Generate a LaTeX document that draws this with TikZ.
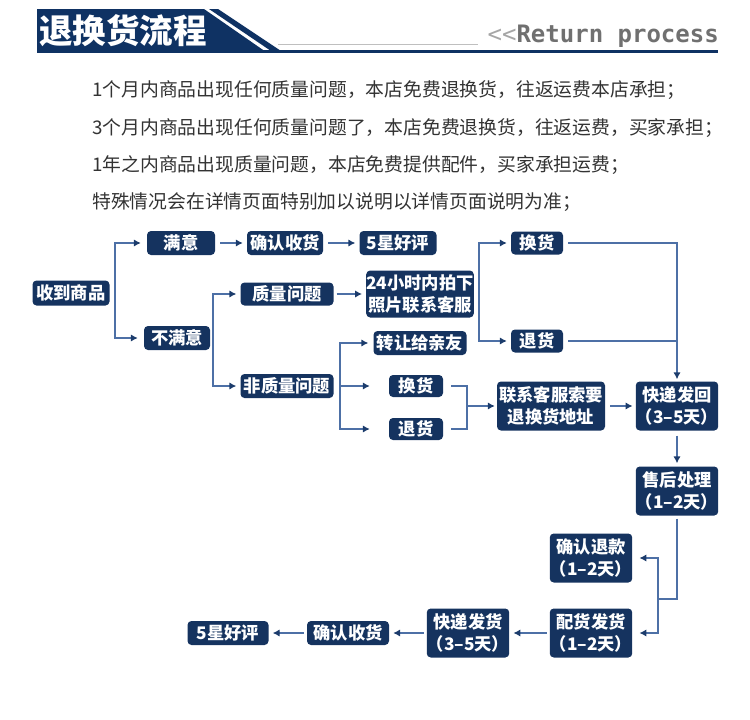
\documentclass[tikz,border=0pt]{standalone}
\usepackage{fontspec}
\setmainfont{Noto Sans CJK SC}
\newfontfamily\monofam{DejaVu Sans Mono}
\usetikzlibrary{arrows.meta}
\definecolor{boxc}{HTML}{15335F}
\definecolor{headc}{HTML}{0F3263}
\definecolor{linec}{HTML}{4D70A6}
\definecolor{tipc}{HTML}{1C3C6C}
\definecolor{textc}{HTML}{333333}
\definecolor{subc}{HTML}{707070}
\tikzset{
  box/.style={fill=boxc, rounded corners=4pt, text=white, inner sep=0pt, align=center,
    font=\bfseries\fontsize{17.3}{22}\selectfont},
  conn/.style={draw=linec, line width=1.8pt, shorten >=4pt,
    -{Latex[length=7pt,width=7.5pt,color=tipc]}},
  link/.style={draw=linec, line width=1.8pt},
  bodytext/.style={anchor=west, inner sep=0pt, text=textc, font=\fontsize{18.8}{20}\selectfont},
}
\begin{document}
\begin{tikzpicture}[x=1pt,y=-1pt]
\useasboundingbox (0,0) rectangle (750,720);
% header
\fill[headc] (37,9) -- (204,9) -- (266,52) -- (37,52) -- cycle;
\fill[headc] (209,9) -- (218,9) -- (281,51) -- (271,51) -- cycle;
\fill[headc] (37,50) rectangle (718,53);
\draw[black!25, line width=0.8pt] (278,44) -- (478,44);
\node[anchor=west, inner sep=0pt, text=white, font=\bfseries\fontsize{33.5}{33.5}\selectfont] (title) at (39,31) {退换货流程};
\node[anchor=east, inner sep=0pt, text=subc, font=\monofam\bfseries\fontsize{24}{24}\selectfont] (sub) at (719,36) {{\mdseries\color{black!35}<<}Return process};
% body text
\node[bodytext] (l1) at (92,90) {1个月内商品出现任何质量问题，本店免费退换货，往返运费本店承担；};
\node[bodytext] (l2) at (92,128) {3个月内商品出现任何质量问题了，本店免费退换货，往返运费，买家承担；};
\node[bodytext] (l3) at (92,165) {1年之内商品出现质量问题，本店免费提供配件，买家承担运费；};
\node[bodytext] (l4) at (92,202) {特殊情况会在详情页面特别加以说明以详情页面说明为准；};
% nodes
\node[box, minimum width=77pt, minimum height=25pt] (recv) at (71,293) {收到商品};
\node[box, minimum width=68pt, minimum height=24pt] (ok) at (181,243) {满意};
\node[box, minimum width=76pt, minimum height=24pt] (confirmA) at (285,243) {确认收货};
\node[box, minimum width=77pt, minimum height=24pt] (starA) at (398,243) {5星好评};
\node[box, minimum width=66pt, minimum height=24pt] (notok) at (177,338) {不满意};
\node[box, minimum width=93pt, minimum height=23pt] (qual) at (287,294) {质量问题};
\node[box, minimum width=107pt, minimum height=47pt] (photo) at (420,294) {24小时内拍下\\照片联系客服};
\node[box, minimum width=93pt, minimum height=24pt] (gift) at (420,343) {转让给亲友};
\node[box, minimum width=93pt, minimum height=24pt] (nonqual) at (287,386) {非质量问题};
\node[box, minimum width=54pt, minimum height=22pt] (exL) at (416,386) {换货};
\node[box, minimum width=54pt, minimum height=22pt] (retL) at (416,429) {退货};
\node[box, minimum width=108pt, minimum height=49pt] (contact) at (551,406) {联系客服索要\\退换货地址};
\node[box, minimum width=52pt, minimum height=23pt] (exR) at (537,243) {换货};
\node[box, minimum width=52pt, minimum height=23pt] (retR) at (537,341) {退货};
\node[box, minimum width=82pt, minimum height=49pt] (shipback) at (677,406) {快递发回\\（3–5天）};
\node[box, minimum width=81pt, minimum height=49pt] (after) at (677,491) {售后处理\\（1–2天）};
\node[box, minimum width=81pt, minimum height=49pt] (refund) at (591,558) {确认退款\\（1–2天）};
\node[box, minimum width=81pt, minimum height=49pt] (prep) at (591,633) {配货发货\\（1–2天）};
\node[box, minimum width=80pt, minimum height=49pt] (ship) at (468,633) {快递发货\\（3–5天）};
\node[box, minimum width=82pt, minimum height=24pt] (confirmB) at (348,633) {确认收货};
\node[box, minimum width=81pt, minimum height=24pt] (starB) at (228,633) {5星好评};
% junctions
\coordinate (f1) at (115,293);
\coordinate (f2) at (213,338);
\coordinate (f3) at (479,294);
\coordinate (j1) at (677,341);
\coordinate (f4) at (340,386);
\coordinate (f5) at (467,406);
\coordinate (f6) at (658,599);
% connectors
\draw[conn, shorten >=6pt] (f1) |- (ok);
\draw[conn, shorten >=6pt] (f1) |- (notok);
\draw[conn, shorten <=5pt] (ok) -- (confirmA);
\draw[conn, shorten <=5pt] (confirmA) -- (starA);
\draw[conn] (f2) |- (qual);
\draw[conn] (f2) |- (nonqual);
\draw[conn, shorten <=3pt] (qual) -- (photo);
\draw[conn] (f3) |- (exR);
\draw[conn] (f3) |- (retR);
\draw[conn, shorten <=5pt, shorten >=2pt] (exR) -| (shipback);
\draw[link, shorten <=5pt] (retR) -- (j1);
\draw[conn, shorten >=5pt] (f4) |- (gift);
\draw[conn, shorten >=19pt] (f4) -- (exL);
\draw[conn, shorten >=19pt] (f4) |- (retL);
\draw[link, shorten <=8pt] (exL) -| (f5);
\draw[link, shorten <=8pt] (retL) -| (f5);
\draw[conn, shorten >=2pt] (f5) -- (contact);
\draw[conn, shorten <=5pt, shorten >=3pt] (contact) -- (shipback);
\draw[conn, shorten <=5pt, shorten >=3pt] (shipback) -- (after);
\draw[link, shorten <=3pt] (after) |- (f6);
\draw[conn, shorten >=7pt] (f6) |- (refund);
\draw[conn, shorten >=7pt] (f6) |- (prep);
\draw[conn, shorten <=3pt, shorten >=4pt] (prep) -- (ship);
\draw[conn, shorten <=3pt, shorten >=4pt] (ship) -- (confirmB);
\draw[conn, shorten <=3pt, shorten >=4pt] (confirmB) -- (starB);
\end{tikzpicture}
\end{document}
